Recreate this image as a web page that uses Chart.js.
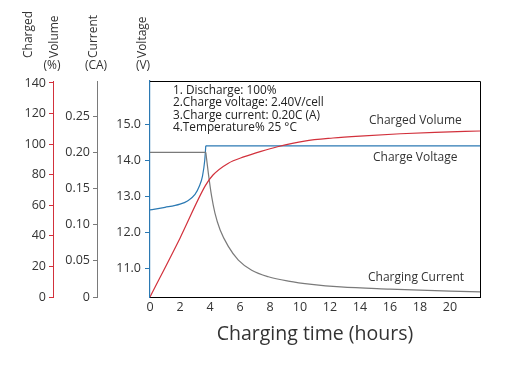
<!DOCTYPE html>
<html>
<head>
<meta charset="utf-8">
<script src="https://cdn.jsdelivr.net/npm/chart.js@4.4.1/dist/chart.umd.min.js"></script>
<style>
  body { margin: 0; background: #fff; }
  #wrap { width: 510px; height: 371px; position: relative; }
</style>
</head>
<body>
<div id="wrap"><canvas id="chargeChart"></canvas></div>
<script>
// charged volume (%) vs hours
const volumeHours  = [0, 2, 3.7, 4.2, 5.2, 6.3, 7.4, 8.5, 10.3, 12.2, 14, 16.7, 19, 22];
const volumeValues = [0, 38.5, 73, 79.8, 87.4, 91.8, 95.3, 98.3, 102, 104, 105.3, 106.8, 107.7, 108.6];

// charge current (CA): constant part, then decay
const currentFlatHours  = [0, 3.72];
const currentFlatValues = [0.2, 0.2];
const currentDecayHours  = [3.72, 3.89, 4.11, 4.33, 4.67, 5.22, 5.89, 6.78, 7.89, 9.22, 10.78, 12.7, 16, 20, 22];
const currentDecayValues = [0.2, 0.171, 0.139, 0.116, 0.093, 0.070, 0.051, 0.037, 0.028, 0.022, 0.0175, 0.014, 0.011, 0.008, 0.007];

// charge voltage (V): rise, then constant
const voltageRiseHours  = [0, 1, 2, 2.5, 3, 3.3, 3.5, 3.65, 3.72];
const voltageRiseValues = [12.62, 12.69, 12.78, 12.87, 13.05, 13.29, 13.56, 14.0, 14.4];
const voltageFlatHours  = [3.72, 22];
const voltageFlatValues = [14.4, 14.4];

const xTicks = [0, 2, 4, 6, 8, 10, 12, 14, 16, 18, 20];
const voltageTicks = [11, 12, 13, 14, 15];

const noteLines = [
    '1. Discharge: 100%',
    '2.Charge voltage: 2.40V/cell',
    '3.Charge current: 0.20C (A)',
    '4.Temperature% 25 °C'
];

const RED = '#d2313c';
const BLUE = '#2b79b3';
const GRAY = '#7a7a7a';
const TXT = '#333';
const FONT = '"Open Sans", sans-serif';

function toPoints(xs, ys) {
    return xs.map((x, i) => ({ x: x, y: ys[i] }));
}

function lineSet(label, xs, ys, color, axis, smooth) {
    return {
        label: label,
        data: toPoints(xs, ys),
        yAxisID: axis,
        borderColor: color,
        borderWidth: 1.2,
        pointRadius: 0,
        fill: false,
        tension: smooth ? 0.4 : 0,
        cubicInterpolationMode: smooth ? 'monotone' : 'default'
    };
}

// headers, notes, curve labels and the box edges
const decorPlugin = {
    id: 'decor',
    afterDraw(chart) {
        const ctx = chart.ctx;
        const a = chart.chartArea;
        ctx.save();

        // black top and right edges of the plot box
        ctx.strokeStyle = '#000';
        ctx.lineWidth = 1;
        ctx.beginPath();
        ctx.moveTo(a.left, a.top + 0.5);
        ctx.lineTo(a.right + 0.5, a.top + 0.5);
        ctx.lineTo(a.right + 0.5, a.bottom);
        ctx.stroke();

        ctx.fillStyle = TXT;

        // rotated axis headers
        ctx.font = '12px ' + FONT;
        ctx.textBaseline = 'middle';
        const rotated = [['Charged', 29], ['Volume', 55], ['Current', 94], ['Voltage', 143]];
        rotated.forEach(([t, x]) => {
            ctx.save();
            ctx.translate(x, 58);
            ctx.rotate(-Math.PI / 2);
            ctx.textAlign = 'left';
            ctx.fillText(t, 0, 0);
            ctx.restore();
        });
        ctx.textAlign = 'center';
        ctx.fillText('(%)', 52, 66);
        ctx.fillText('(CA)', 96, 66);
        ctx.fillText('(V)', 143, 66);

        // condition notes
        ctx.font = '11.8px ' + FONT;
        ctx.fillStyle = '#222';
        ctx.textAlign = 'left';
        noteLines.forEach((t, i) => {
            ctx.fillText(t, 173, 91 + i * 12.1);
        });

        // curve labels
        ctx.fillStyle = TXT;
        ctx.font = '12px ' + FONT;
        ctx.fillText('Charged Volume', 369, 121);
        ctx.fillText('Charge Voltage', 373, 158);
        ctx.fillText('Charging Current', 368, 278);

        ctx.restore();
    }
};

const ctx = document.getElementById('chargeChart').getContext('2d');

new Chart(ctx, {
    type: 'line',
    data: {
        datasets: [
            lineSet('Charged Volume', volumeHours, volumeValues, RED, 'yP', true),
            lineSet('Charging Current', currentFlatHours, currentFlatValues, GRAY, 'yC', false),
            lineSet('Charging Current', currentDecayHours, currentDecayValues, GRAY, 'yC', true),
            lineSet('Charge Voltage', voltageRiseHours, voltageRiseValues, BLUE, 'yV', true),
            lineSet('Charge Voltage', voltageFlatHours, voltageFlatValues, BLUE, 'yV', false)
        ]
    },
    options: {
        responsive: true,
        maintainAspectRatio: false,
        animation: false,
        layout: { padding: { left: 0, top: 81, right: 30, bottom: 21 } },
        plugins: {
            legend: { display: false },
            tooltip: { enabled: false }
        },
        scales: {
            x: {
                type: 'linear',
                min: 0,
                max: 22,
                afterBuildTicks: s => { s.ticks = xTicks.map(v => ({ value: v })); },
                ticks: { color: TXT, font: { family: FONT, size: 12.5 }, padding: 3, maxRotation: 0 },
                grid: { display: true, drawOnChartArea: false, drawTicks: false },
                border: { color: '#000', width: 1 },
                title: {
                    display: true,
                    text: 'Charging time (hours)',
                    color: TXT,
                    font: { family: FONT, size: 19.5 },
                    padding: { top: 4, bottom: 4 }
                },
                afterFit: s => { s.height = 53; }
            },
            yV: {
                position: 'left',
                min: 10.2,
                max: 16.2,
                afterBuildTicks: s => { s.ticks = voltageTicks.map(v => ({ value: v })); },
                ticks: {
                    color: TXT,
                    font: { family: FONT, size: 12.5 },
                    padding: 4,
                    callback: v => v.toFixed(1)
                },
                grid: { drawOnChartArea: false, tickLength: 5, color: BLUE },
                border: { color: BLUE, width: 1.2 },
                afterFit: s => { s.width = 53; }
            },
            yC: {
                position: 'left',
                min: 0,
                max: 0.2986,
                ticks: {
                    stepSize: 0.05,
                    includeBounds: false,
                    color: TXT,
                    font: { family: FONT, size: 12.5 },
                    padding: 3,
                    callback: v => v === 0 ? '0' : v.toFixed(2)
                },
                grid: { drawOnChartArea: false, tickLength: 4, color: GRAY },
                border: { color: GRAY, width: 1 },
                afterFit: s => { s.width = 44; }
            },
            yP: {
                position: 'left',
                min: 0,
                max: 141.3,
                ticks: {
                    stepSize: 20,
                    includeBounds: false,
                    color: TXT,
                    font: { family: FONT, size: 12.5 },
                    padding: 3
                },
                grid: { drawOnChartArea: false, tickLength: 4, color: RED },
                border: { color: RED, width: 1 },
                afterFit: s => { s.width = 53; }
            }
        }
    },
    plugins: [decorPlugin]
});
</script>
</body>
</html>
